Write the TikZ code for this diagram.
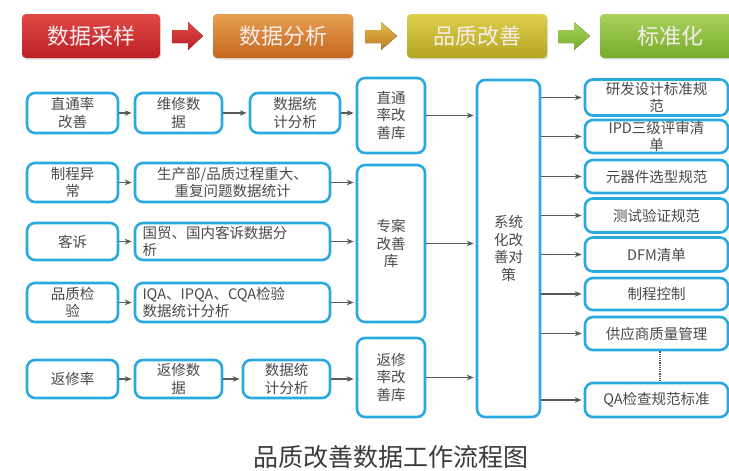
\documentclass[tikz,border=0pt]{standalone}
\usepackage{fontspec}
\setmainfont{Noto Sans CJK SC}
\usetikzlibrary{arrows.meta,calc,shadows}
\definecolor{cyanline}{HTML}{2AA8E0}
\definecolor{boxtext}{HTML}{4A4A4A}
\definecolor{conngray}{HTML}{5A5A5A}
\definecolor{redT}{HTML}{E04A44}
\definecolor{redB}{HTML}{BC1E26}
\definecolor{orgT}{HTML}{E8A052}
\definecolor{orgB}{HTML}{C4661E}
\definecolor{yelT}{HTML}{DED04E}
\definecolor{yelB}{HTML}{B3A520}
\definecolor{grnT}{HTML}{AAD35E}
\definecolor{grnB}{HTML}{76AC2A}
\definecolor{toptext}{HTML}{F6EEEE}
\begin{document}
\begin{tikzpicture}[x=1pt,y=-1pt,
  box/.style={draw=cyanline, line width=2.6pt, rounded corners=8pt, fill=white,
    inner sep=1pt, align=center, text=boxtext, font=\fontsize{14.5}{17.5}\selectfont},
  topbox/.style={rounded corners=4pt, minimum width=140pt, minimum height=44pt,
    text=toptext, font=\fontsize{22}{24}\selectfont,
    drop shadow={opacity=0.25, shadow xshift=1pt, shadow yshift=-1.5pt}},
  conn/.style={draw=conngray, line width=1.2pt, -{Stealth[length=7pt,width=5.5pt]}, shorten >=2pt},
  dotl/.style={draw=conngray, line width=1.2pt, densely dotted}
]
\useasboundingbox (0,0) rectangle (729,471);
\clip (0,0) rectangle (729,471);

% top banner
\node[topbox, top color=redT, bottom color=redB, minimum width=138pt] (t1) at (91,36) {数据采样};
\node[topbox, top color=orgT, bottom color=orgB] (t2) at (283,36) {数据分析};
\node[topbox, top color=yelT, bottom color=yelB] (t3) at (477,36) {品质改善};
\node[topbox, top color=grnT, bottom color=grnB] (t4) at (670,36) {标准化};

\fill[top color=redT, bottom color=redB] (172,30) -- (188,30) -- (188,22) -- (203,36) -- (188,50) -- (188,43) -- (172,43) -- cycle;
\fill[top color=yelT!60!orgT, bottom color=orgB!70!yelB] (365,30) -- (381,30) -- (381,22) -- (397,36) -- (381,50) -- (381,43) -- (365,43) -- cycle;
\fill[top color=grnT, bottom color=grnB] (558,30) -- (574,30) -- (574,22) -- (590,36) -- (574,50) -- (574,43) -- (558,43) -- cycle;

% left column
\node[box, minimum width=91pt, minimum height=40pt] (a1) at (72.5,113) {直通率\\改善};
\node[box, minimum width=91pt, minimum height=39pt] (a2) at (72.5,182.5) {制程异\\常};
\node[box, minimum width=91pt, minimum height=37pt] (a3) at (72.5,241.5) {客诉};
\node[box, minimum width=91pt, minimum height=39pt] (a4) at (72.5,302.5) {品质检\\验};
\node[box, minimum width=91pt, minimum height=38pt] (a5) at (72.5,379) {返修率};

% second column
\node[box, minimum width=87pt, minimum height=40pt] (b1) at (178.5,113) {维修数\\据};
\node[box, minimum width=195pt, minimum height=39pt] (b2) at (232.5,182.5) {生产部/品质过程重大、\\重复问题数据统计};
\node[box, minimum width=195pt, minimum height=37pt, text width=180pt, align=left] (b3) at (232.5,241.5) {国贸、国内客诉数据分\\析};
\node[box, minimum width=195pt, minimum height=39pt, text width=180pt, align=left] (b4) at (232.5,302.5) {IQA、IPQA、CQA检验\\数据统计分析};
\node[box, minimum width=87pt, minimum height=38pt] (b5) at (178.5,379) {返修数\\据};

% third column
\node[box, minimum width=90pt, minimum height=40pt] (c1) at (295,113) {数据统\\计分析};
\node[box, minimum width=87pt, minimum height=38pt] (c5) at (286.5,379) {数据统\\计分析};

% improvement libraries
\node[box, minimum width=68pt, minimum height=75pt] (k1) at (391,115.5) {直通\\率改\\善库};
\node[box, minimum width=68pt, minimum height=157pt] (k2) at (391,243.5) {专案\\改善\\库};
\node[box, minimum width=68pt, minimum height=79pt] (k3) at (391,377.5) {返修\\率改\\善库};

% systematic measures
\node[box, minimum width=63pt, minimum height=337pt] (s) at (508.5,248.5) {系统\\化改\\善对\\策};

% standards
\node[box, minimum width=143pt, minimum height=36pt] (r1) at (656.5,97.5) {研发设计标准规\\范};
\node[box, minimum width=143pt, minimum height=33pt] (r2) at (656.5,136.5) {IPD三级评审清\\单};
\node[box, minimum width=143pt, minimum height=33pt] (r3) at (656.5,176.5) {元器件选型规范};
\node[box, minimum width=143pt, minimum height=34pt] (r4) at (656.5,215.5) {测试验证规范};
\node[box, minimum width=143pt, minimum height=34pt] (r5) at (656.5,254.5) {DFM清单};
\node[box, minimum width=143pt, minimum height=32pt] (r6) at (656.5,294) {制程控制};
\node[box, minimum width=143pt, minimum height=33pt] (r7) at (656.5,333.5) {供应商质量管理};
\node[box, minimum width=143pt, minimum height=34pt] (r8) at (656.5,400) {QA检查规范标准};

% connectors
\draw[conn] (a1) -- (b1);
\draw[conn] (b1) -- (c1);
\draw[conn] (c1) -- (k1.west |- c1.east);
\draw[conn] (a2) -- (b2);
\draw[conn] (a3) -- (b3);
\draw[conn] (a4) -- (b4);
\draw[conn] (b2.east) -- (k2.west |- b2.east);
\draw[conn] (b3.east) -- (k2.west |- b3.east);
\draw[conn] (b4.east) -- (k2.west |- b4.east);
\draw[conn] (a5) -- (b5);
\draw[conn] (b5) -- (c5);
\draw[conn] (c5.east) -- (k3.west |- c5.east);
\draw[conn] (k1.east) -- (s.west |- k1.east);
\draw[conn] (k2.east) -- (s.west |- k2.east);
\draw[conn] (k3.east) -- (s.west |- k3.east);
\foreach \r in {r1,r2,r3,r4,r5,r6,r7,r8}
  \draw[conn] (s.east |- \r.west) -- (\r.west);
\draw[dotl] ([xshift=3.5pt]r7.south) -- ([xshift=3.5pt]r8.north);

% caption
\node[text=boxtext!80!black, font=\fontsize{25}{28}\selectfont] (cap) at (391,457) {品质改善数据工作流程图};
\end{tikzpicture}
\end{document}
